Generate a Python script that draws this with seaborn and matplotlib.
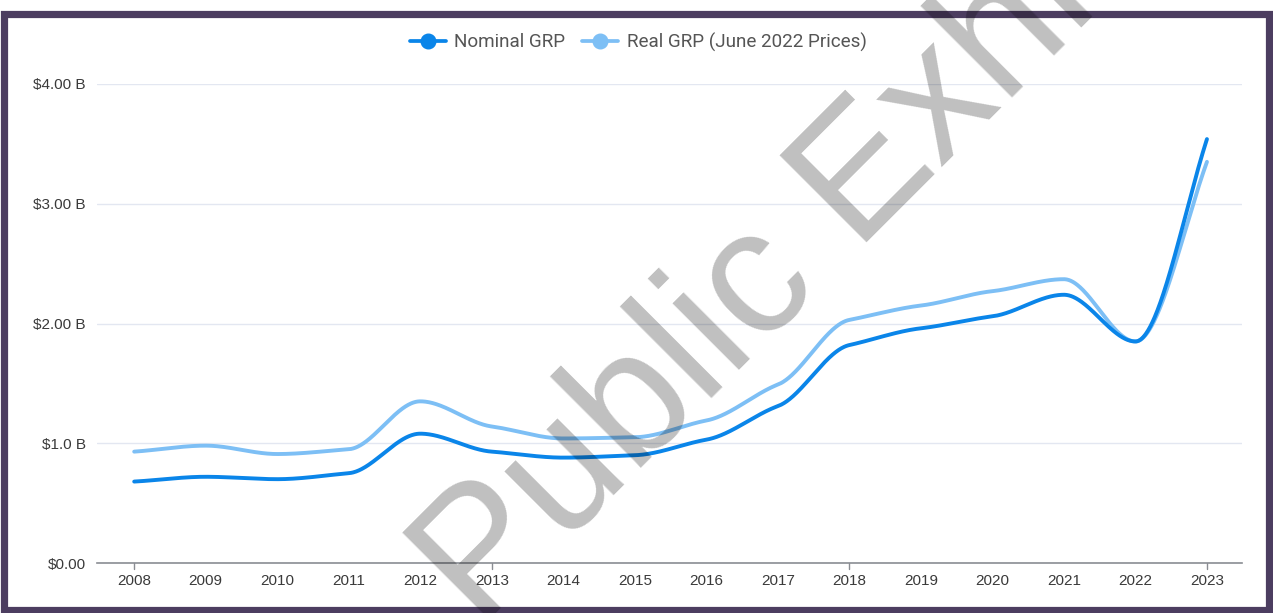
import numpy as np
import pandas as pd
import matplotlib
matplotlib.use("Agg")
import matplotlib.pyplot as plt
import seaborn as sns
from matplotlib.lines import Line2D
from matplotlib.patches import Rectangle

years = [2008, 2009, 2010, 2011, 2012, 2013, 2014, 2015, 2016, 2017, 2018, 2019, 2020, 2021, 2022, 2023]
nominal = [0.68, 0.72, 0.70, 0.75, 1.08, 0.93, 0.88, 0.90, 1.03, 1.31, 1.82, 1.96, 2.06, 2.24, 1.85, 3.54]
real = [0.93, 0.98, 0.91, 0.95, 1.35, 1.14, 1.04, 1.05, 1.19, 1.49, 2.03, 2.15, 2.27, 2.37, 1.85, 3.35]
series_names = ["Nominal GRP", "Real GRP (June 2022 Prices)"]
colors = ["#0a85e9", "#7dbff5"]
ytick_vals = [0, 1, 2, 3, 4]
ytick_labels = ["$0.00", "$1.0 B", "$2.00 B", "$3.00 B", "$4.00 B"]
xtick_labels = [str(y) for y in years]


def smooth(x, y, xn, k=0.6):
    x = np.asarray(x, float); y = np.asarray(y, float)
    h = np.diff(x); d = np.diff(y) / h
    m = np.zeros_like(y)
    for i in range(1, len(y) - 1):
        if d[i - 1] * d[i] <= 0:
            m[i] = 0
        else:
            w1 = 2 * h[i] + h[i - 1]; w2 = h[i] + 2 * h[i - 1]
            m[i] = k * (w1 + w2) / (w1 / d[i - 1] + w2 / d[i])
    m[0] = d[0] * 0.8; m[-1] = d[-1] * 1.1
    idx = np.clip(np.searchsorted(x, xn) - 1, 0, len(x) - 2)
    t = (xn - x[idx]) / h[idx]
    h00 = 2 * t**3 - 3 * t**2 + 1; h10 = t**3 - 2 * t**2 + t
    h01 = -2 * t**3 + 3 * t**2; h11 = t**3 - t**2
    return h00 * y[idx] + h10 * h[idx] * m[idx] + h01 * y[idx + 1] + h11 * h[idx] * m[idx + 1]


xs = np.linspace(years[0], years[-1], 1500)
frames = []
for name, vals in zip(series_names, [nominal, real]):
    frames.append(pd.DataFrame({"year": xs, "value": smooth(years, vals, xs), "series": name}))
df = pd.concat(frames[::-1], ignore_index=True)

sns.set_theme(style="white")
plt.rcParams["font.family"] = ["Liberation Sans", "DejaVu Sans"]

W, H = 1273, 613
fig = plt.figure(figsize=(W / 100, H / 100), dpi=100)
fig.patch.set_facecolor("white")
ax = fig.add_axes([97 / W, 1 - 563 / H, (1242 - 97) / W, (563 - 84) / H])

sns.lineplot(data=df, x="year", y="value", hue="series",
             hue_order=series_names[::-1], palette=colors[::-1],
             linewidth=2.8, ax=ax, legend=False, estimator=None, sort=False)

ax.set_xlim(2007.48, 2023.49)
ax.set_ylim(0, 4.0)
ax.set_yticks(ytick_vals)
ax.set_yticklabels(ytick_labels)
ax.set_xticks(years)
ax.set_xticklabels(xtick_labels)
ax.set_xlabel("")
ax.set_ylabel("")
ax.grid(axis="y", color="#e3e7f1", linewidth=1.0)
ax.set_axisbelow(True)
for s in ["top", "right", "left"]:
    ax.spines[s].set_visible(False)
ax.spines["bottom"].set_color("#8a8d93")
ax.spines["bottom"].set_linewidth(1.2)
ax.tick_params(axis="y", length=0, pad=8, labelsize=11, labelcolor="#3a3a3a")
ax.tick_params(axis="x", length=0, pad=8, labelsize=11, labelcolor="#3a3a3a")
# small ticks every 5 years
for yr in [2008, 2013, 2018, 2023]:
    ax.plot([yr, yr], [0, -0.05], color="#8a8d93", lw=1.0, clip_on=False)

handles = [Line2D([0], [0], color=c, lw=2.7, marker="o", markersize=10.5,
                  markerfacecolor=c, markeredgecolor=c) for c in colors]
leg = fig.legend(handles, series_names, loc="center", bbox_to_anchor=(638 / W, 1 - 42 / H),
                 ncol=2, frameon=False, handlelength=1.9, columnspacing=0.9, handletextpad=0.45,
                 prop={"family": "Roboto", "size": 13.6})
for t in leg.get_texts():
    t.set_color("#555555")

# frame
fig.patches.append(Rectangle((3.5 / W, 1 - 609.5 / H), (1268.5 - 3.5) / W, (609.5 - 13.5) / H,
                             transform=fig.transFigure, fill=False,
                             edgecolor="#4c3d60", linewidth=5.2, zorder=10))

# watermark
wm_kw = dict(rotation=45, rotation_mode="anchor", fontsize=128, color="black", alpha=0.25,
             family=["Liberation Sans", "DejaVu Sans"], va="baseline", zorder=20)
fig.text(480 / W, 1 - 630 / H, "Public Exhibit", ha="left", **wm_kw)
fig.text(480 / W, 1 - 630 / H, "Not a ", ha="right", **wm_kw)

fig.savefig("out.png", dpi=100, facecolor="white")
